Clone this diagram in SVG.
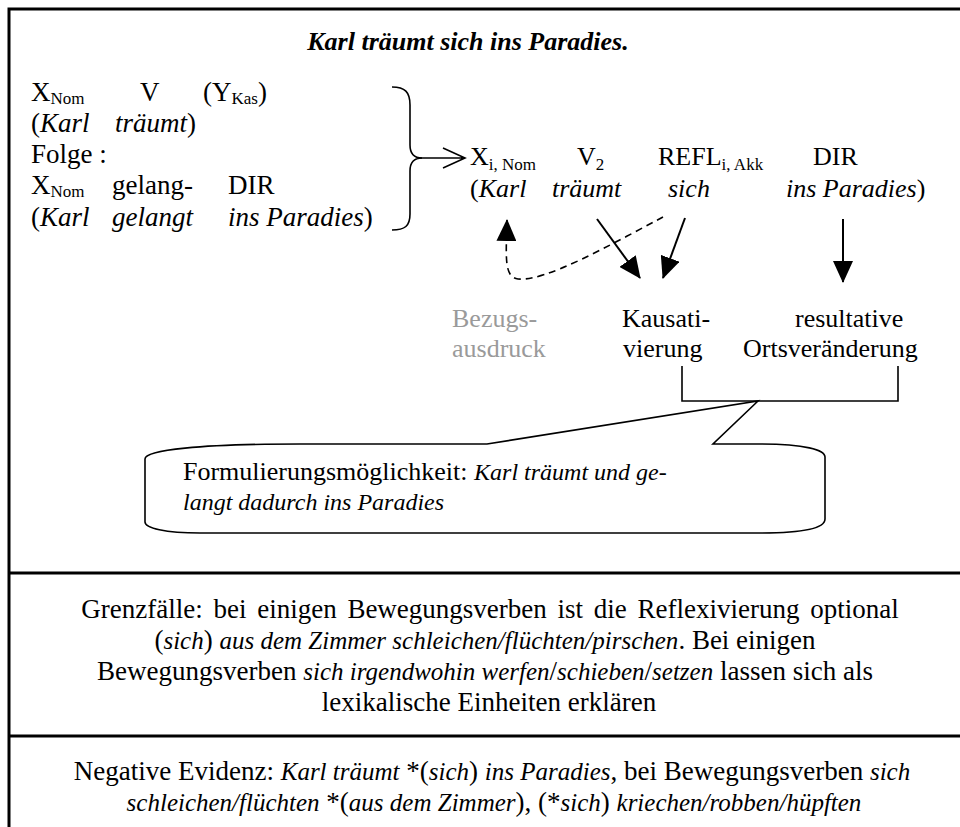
<svg xmlns="http://www.w3.org/2000/svg" width="960" height="827" viewBox="0 0 960 827">
<style>
text{font-family:"Liberation Serif","Times New Roman",serif;font-size:26px;fill:#000}
.i{font-style:italic}
.sub{font-size:17px}
.lb text{font-size:27px}
.lb .sub{font-size:17px}
.bt{font-size:27px}
.bt .i{font-size:25px}
.co{font-size:26px}
.co .i{font-size:24px}
.title{font-weight:bold;font-style:italic;font-size:26px}
.gray{fill:#9a9a9a}
.frame{fill:none;stroke:#000;stroke-width:3}
.ln{fill:none;stroke:#000;stroke-width:1.6}
.arr{fill:none;stroke:#000;stroke-width:2}
.dash{fill:none;stroke:#000;stroke-width:1.6;stroke-dasharray:7 5}
</style>
<defs>
<marker id="ah" markerUnits="userSpaceOnUse" viewBox="0 0 22 20" markerWidth="22" markerHeight="20" refX="21" refY="10" orient="auto">
<path d="M0,0 L22,10 L0,20 Z" fill="#000"/>
</marker>
</defs>
<rect width="960" height="827" fill="#fff"/>
<g id="frame">
<path class="frame" d="M9 827 V9 H962"/>
<path class="frame" d="M9 573 H962"/>
<path class="frame" d="M9 736 H962"/>
</g>
<g id="title"><text class="title" x="468" y="50" text-anchor="middle">Karl träumt sich ins Paradies.</text></g>
<g id="left-formula" class="lb">
<text x="31" y="101">X<tspan class="sub" dy="3">Nom</tspan><tspan x="140" dy="-3">V</tspan><tspan x="203">(Y</tspan><tspan class="sub" dy="3">Kas</tspan><tspan dy="-3">)</tspan></text>
<text x="31" y="132">(<tspan class="i">Karl</tspan><tspan x="115" class="i">träumt</tspan>)</text>
<text x="31" y="163">Folge :</text>
<text x="31" y="194">X<tspan class="sub" dy="3">Nom</tspan><tspan x="112" dy="-3">gelang-</tspan><tspan x="228">DIR</tspan></text>
<text x="31" y="226">(<tspan class="i">Karl</tspan><tspan x="112" class="i">gelangt</tspan><tspan x="228" class="i">ins Paradies</tspan>)</text>
</g>
<g id="right-formula">
<text x="470" y="165">X<tspan class="sub" dy="5">i, Nom</tspan><tspan x="577" dy="-5">V</tspan><tspan class="sub" dy="5">2</tspan><tspan x="658" dy="-5">REFL</tspan><tspan class="sub" dy="5">i, Akk</tspan><tspan x="813" dy="-5">DIR</tspan></text>
<text x="470" y="197">(<tspan class="i">Karl</tspan><tspan x="552" class="i">träumt</tspan><tspan x="668" class="i">sich</tspan><tspan x="786" class="i">ins Paradies</tspan>)</text>
</g>
<g id="label-bezug"><text class="gray" x="452" y="327">Bezugs-</text><text class="gray" x="452" y="357">ausdruck</text></g>
<g id="label-kausativ"><text x="622" y="327">Kausati-</text><text x="623" y="357">vierung</text></g>
<g id="label-resultativ"><text x="795" y="327">resultative</text><text x="743" y="357">Ortsveränderung</text></g>
<g id="connectors">
<path class="ln" d="M392 87 C405 87 410 92 410 105 V145 C410 154 414 158 422 158 C414 158 410 162 410 171 V214 C410 226 405 230 392 230"/>
<path class="ln" d="M420 158 H464 M443 148 L465 158 L443 168"/>
<path class="arr" d="M597 219 L640 278" marker-end="url(#ah)"/>
<path class="arr" d="M685 218 L663 278" marker-end="url(#ah)"/>
<path class="arr" d="M843 219 L843 282" marker-end="url(#ah)"/>
<path class="dash" d="M663 217 C610 245 545 282 518 279 C504 277 506 258 507 220" marker-end="url(#ah)"/>
<path class="ln" d="M682 366 V401 H898 V366"/>
</g>
<g id="callout">
<path class="ln" d="M145 459 C145 450 200 444 300 444 L487 444 L758 401 L713 444 L760 444 C805 444 825 450 825 457 L825 519 C825 528 805 533 760 533 L200 533 C165 533 145 528 145 522 Z" fill="#fff"/>
<text class="co" x="183" y="480">Formulierungsmöglichkeit: <tspan class="i">Karl träumt und ge-</tspan></text>
<text class="co" x="183" y="510"><tspan class="i">langt dadurch ins Paradies</tspan></text>
</g>
<g id="grenzfaelle">
<text class="bt" x="490" y="618" text-anchor="middle" word-spacing="4">Grenzfälle: bei einigen Bewegungsverben ist die Reflexivierung optional</text>
<text class="bt" x="485" y="649" text-anchor="middle">(<tspan class="i">sich</tspan>) <tspan class="i">aus dem Zimmer schleichen/flüchten/pirschen</tspan>. Bei einigen</text>
<text class="bt" x="485" y="680" text-anchor="middle">Bewegungsverben <tspan class="i">sich irgendwohin werfen</tspan>/<tspan class="i">schieben</tspan>/<tspan class="i">setzen</tspan> lassen sich als</text>
<text class="bt" x="489" y="711" text-anchor="middle">lexikalische Einheiten erklären</text>
</g>
<g id="negative">
<text class="bt" x="492" y="780" text-anchor="middle">Negative Evidenz: <tspan class="i">Karl träumt</tspan> *(<tspan class="i">sich</tspan>) <tspan class="i">ins Paradies</tspan>, bei Bewegungsverben <tspan class="i">sich</tspan></text>
<text class="bt" x="494" y="811" text-anchor="middle"><tspan class="i">schleichen/flüchten</tspan> *(<tspan class="i">aus dem Zimmer</tspan>), (*<tspan class="i">sich</tspan>) <tspan class="i">kriechen/robben/hüpften</tspan></text>
</g>
</svg>
